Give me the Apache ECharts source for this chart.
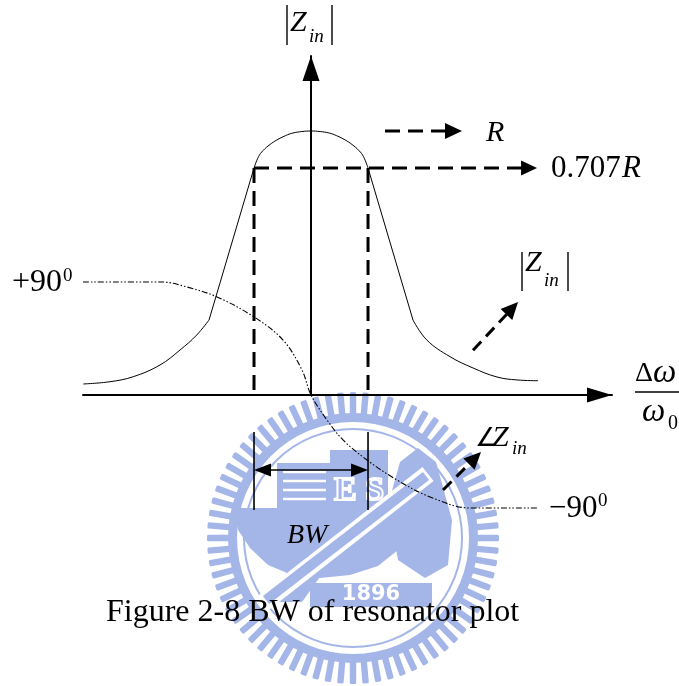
<!DOCTYPE html>
<html>
<head>
<meta charset="utf-8">
<script src="https://cdn.jsdelivr.net/npm/echarts@6/dist/echarts.min.js"></script>
<style>
  html, body { margin: 0; padding: 0; background: #fff; }
  #chart { width: 679px; height: 686px; }
</style>
</head>
<body>
<div id="chart"></div>
<script>
// Frequency offset Δω/ω0 in half-bandwidth units: the -3 dB edges sit at ±1.
const bandEdges = [-1, 1];
const peakLevel = 1;          // |Zin| at resonance, normalised to R
const halfPowerLevel = 0.707; // |Zin| at the band edges

// |Zin| / R : left skirt, rounded top, right skirt
const magLeftTail = [
  [-3.995, 0.0933], [-3.526, 0.0953], [-3.118, 0.0999], [-2.649, 0.1115],
  [-2.298, 0.1283], [-2.005, 0.1477], [-1.789, 0.170]
];
const magDome = [
  [-1, 0.707], [-0.92, 0.787], [-0.84, 0.833], [-0.72, 0.881], [-0.6, 0.919],
  [-0.45, 0.957], [-0.32, 0.981], [-0.16, 0.995], [0, 1],
  [0.16, 0.995], [0.32, 0.981], [0.45, 0.957], [0.6, 0.919], [0.72, 0.881],
  [0.84, 0.833], [0.92, 0.787], [1, 0.707]
];
const magRightTail = [
  [1.789, 0.170], [2.03, 0.141], [2.439, 0.1205], [2.842, 0.1084],
  [3.263, 0.0996], [3.614, 0.0969], [3.982, 0.0962]
];

// ∠Zin in degrees
const phaseCurve = [
  [-4, 90], [-2.614, 90], [-2.175, 86.0], [-1.649, 78.1], [-1, 62.2],
  [-0.491, 43.8], [-0.158, 19.9], [0, 0], [0.281, -19.9], [0.561, -35.8],
  [0.982, -51.8], [1.509, -67.7], [2.088, -81.2], [2.789, -90], [3.982, -90]
];

// Pointer arrows, [from, to] in axis units
const rPointer = [[1.298, peakLevel], [2.649, peakLevel]];
const halfPowerPointer = [[bandEdges[0], halfPowerLevel], [3.965, halfPowerLevel]];
const magPointer = [[2.842, 0.128], [3.632, 0.201]];
const phasePointer = [[2.316, -75.7], [2.982, -45.4]];
const bwMarkerPhase = -59.7;          // height of the BW dimension arrow
const bwWitnessPhase = [-29.5, -91.6]; // extent of its witness lines

// Axis extents
const xRange = [-4, 5.28];
const magRange = [0.08414, 2.0203];   // log axis for |Zin|
const phaseRange = [0, 270];          // hidden linear axis for ∠Zin

const SERIF = '"Liberation Serif", "Times New Roman", serif';
const INK = '#000';

// ---- arrows drawn through the axes' own coordinate conversion ----
function arrowParts(p1, p2, opt) {
  const dx = p2[0] - p1[0], dy = p2[1] - p1[1];
  const L = Math.hypot(dx, dy) || 1;
  const ux = dx / L, uy = dy / L, nx = -uy, ny = ux;
  const parts = [];
  const head = (tip, s) => {
    const bx = tip[0] - s * ux * opt.headLen, by = tip[1] - s * uy * opt.headLen;
    return {
      type: 'polygon',
      shape: { points: [[tip[0], tip[1]],
        [bx + nx * opt.headHalf, by + ny * opt.headHalf],
        [bx - nx * opt.headHalf, by - ny * opt.headHalf]] },
      style: { fill: INK }
    };
  };
  let a = p1, b = p2;
  if (opt.end) b = [p2[0] - ux * opt.headLen * 0.9, p2[1] - uy * opt.headLen * 0.9];
  if (opt.start) a = [p1[0] + ux * opt.headLen * 0.9, p1[1] + uy * opt.headLen * 0.9];
  parts.push({
    type: 'line',
    shape: { x1: a[0], y1: a[1], x2: b[0], y2: b[1] },
    style: { stroke: INK, lineWidth: opt.width, lineDash: opt.dash || null, fill: null }
  });
  if (opt.end) parts.push(head(p2, 1));
  if (opt.start) parts.push(head(p1, -1));
  return parts;
}

function arrowSeries(yAxisIndex, segments, opt) {
  return {
    type: 'custom',
    xAxisIndex: 0,
    yAxisIndex: yAxisIndex,
    clip: false,
    silent: true,
    z: 3,
    data: segments.map(s => [s[0][0], s[0][1], s[1][0], s[1][1]]),
    renderItem(params, api) {
      const p1 = api.coord([api.value(0), api.value(1)]);
      const p2 = api.coord([api.value(2), api.value(3)]);
      return { type: 'group', children: arrowParts(p1, p2, opt) };
    }
  };
}

function curve(data, smooth, yAxisIndex, lineStyle) {
  return {
    type: 'line', data: data, smooth: smooth, symbol: 'none',
    yAxisIndex: yAxisIndex, clip: false, silent: true, z: 2,
    lineStyle: lineStyle, emphasis: { disabled: true }
  };
}

const solidThin = { color: INK, width: 1 };
const dashHeavy = { width: 3, dash: [15, 8] };

const series = [
  // |Zin|
  curve(magLeftTail, 0.4, 0, solidThin),
  curve([magLeftTail[magLeftTail.length - 1], magDome[0]], false, 0, solidThin),
  curve(magDome, 0.4, 0, solidThin),
  curve([magDome[magDome.length - 1], magRightTail[0]], false, 0, solidThin),
  curve(magRightTail, 0.4, 0, solidThin),
  // ∠Zin, dash-dot-dot
  curve(phaseCurve, 0.35, 1, { color: INK, width: 1.1, type: [6, 2, 1.5, 2, 1.5, 2] }),
  // level pointers and band-edge drops
  arrowSeries(0, [rPointer], Object.assign({ end: true, headLen: 17, headHalf: 8 }, dashHeavy)),
  arrowSeries(0, [halfPowerPointer], Object.assign({ end: true, headLen: 16, headHalf: 7.5 }, dashHeavy)),
  arrowSeries(0, bandEdges.map(x => [[x, halfPowerLevel], [x, magRange[0]]]), dashHeavy),
  arrowSeries(0, [magPointer], { end: true, headLen: 17, headHalf: 8, width: 3, dash: [12, 7] }),
  arrowSeries(1, [phasePointer], { end: true, headLen: 17, headHalf: 8, width: 3, dash: [12, 7] }),
  // BW dimension
  arrowSeries(1, [[[bandEdges[0], bwMarkerPhase], [bandEdges[1], bwMarkerPhase]]],
    { start: true, end: true, headLen: 17, headHalf: 6.5, width: 1.6 }),
  arrowSeries(1, bandEdges.map(x => [[x, bwWitnessPhase[0]], [x, bwWitnessPhase[1]]]), { width: 1.6 })
];

// ---- faint university seal behind the plot ----
const wm = '#a4b5e8';
const sealCx = 353, sealCy = 538;
const seal = [];
for (let i = 0; i < 72; i++) {
  seal.push({
    type: 'rect', x: sealCx, y: sealCy, rotation: i * Math.PI * 2 / 72,
    shape: { x: -3.2, y: -146, width: 6.4, height: 23, r: 1.5 },
    style: { fill: wm }, z: -2
  });
}
seal.push(
  { type: 'ring', shape: { cx: sealCx, cy: sealCy, r: 125, r0: 116 }, style: { fill: wm }, z: -2 },
  { type: 'circle', shape: { cx: sealCx, cy: sealCy, r: 109 }, style: { fill: null, stroke: wm, lineWidth: 2 }, z: -2 },
  { type: 'rect', shape: { x: 277, y: 463, width: 53, height: 47 }, style: { fill: wm }, z: -2 },
  { type: 'rect', shape: { x: 330, y: 450, width: 58, height: 60 }, style: { fill: wm }, z: -2 },
  { type: 'polygon', shape: { points: [[233, 508], [415, 508], [410, 530], [398, 550], [378, 566], [350, 575],
    [320, 578], [292, 575], [268, 565], [250, 548], [238, 530]] }, style: { fill: wm }, z: -2 },
  { type: 'polygon', shape: { points: [[388, 505], [400, 462], [418, 448], [436, 462], [452, 520], [448, 565],
    [425, 578], [398, 560]] }, style: { fill: wm }, z: -2 },
  { type: 'polygon', shape: { points: [[262, 602], [298, 560], [332, 560], [302, 602]] }, style: { fill: wm }, z: -2 },
  { type: 'rect', shape: { x: 310, y: 583, width: 122, height: 24 }, style: { fill: wm }, z: -2 },
  { type: 'line', shape: { x1: 262, y1: 604, x2: 428, y2: 474 }, style: { stroke: '#fff', lineWidth: 18 }, z: -2 },
  { type: 'line', shape: { x1: 266, y1: 600, x2: 426, y2: 476 }, style: { stroke: wm, lineWidth: 10 }, z: -2 }
);
[472, 481, 490, 499].forEach(y => seal.push({
  type: 'line', shape: { x1: 283, y1: y, x2: 326, y2: y }, style: { stroke: '#fff', lineWidth: 2.5 }, z: -2
}));
seal.push(
  { type: 'text', style: { text: 'E S', x: 334, y: 491, font: 'bold 34px ' + SERIF, fill: null, stroke: '#fff', lineWidth: 2,
    align: 'left', verticalAlign: 'middle', textAlign: 'left', textVerticalAlign: 'middle' }, z: -2 },
  { type: 'text', style: { text: '1896', x: 371, y: 595, font: 'bold 21px "DejaVu Sans", sans-serif', fill: '#fff',
    align: 'center', verticalAlign: 'middle', textAlign: 'center', textVerticalAlign: 'middle' }, z: -2 }
);

// ---- labels ----
function txt(text, x, y, size, italic) {
  return {
    type: 'text', z: 10, silent: true,
    style: {
      text: text, x: x, y: y, fill: INK,
      font: (italic ? 'italic ' : '') + size + 'px ' + SERIF,
      align: 'left', verticalAlign: 'middle', textAlign: 'left', textVerticalAlign: 'middle'
    }
  };
}
function bar(x, y1, y2) {
  return { type: 'line', z: 10, silent: true, shape: { x1: x, y1: y1, x2: x, y2: y2 }, style: { stroke: INK, lineWidth: 1.4 } };
}

const labels = [
  // |Zin| on the vertical axis
  bar(287, 5, 45), txt('Z', 290, 23, 30, true), txt('in', 309, 37, 19, true), bar(332, 5, 45),
  // level labels
  txt('R', 486, 133, 30, true),
  txt('0.707', 551, 169, 31, false), txt('R', 622, 169, 31, true),
  // |Zin| pointer label
  bar(522, 252, 291), txt('Z', 525, 263, 30, true), txt('in', 544, 281, 19, true), bar(568, 252, 291),
  // ∠Zin pointer label
  txt('\u2220', 475, 439, 26, false), txt('Z', 492, 438, 30, true), txt('in', 512, 449, 19, true),
  // phase limits
  txt('+90', 12, 283, 32, false), txt('0', 63, 276, 19, false),
  txt('\u221290', 549, 509, 31, false), txt('0', 598, 501, 19, false),
  // horizontal axis title Δω / ω0
  txt('\u0394', 635, 374, 28, false), txt('\u03c9', 653, 373, 33, true),
  { type: 'line', z: 10, silent: true, shape: { x1: 635, y1: 392, x2: 681, y2: 392 }, style: { stroke: INK, lineWidth: 1.5 } },
  txt('\u03c9', 642, 412, 33, true), txt('0', 668, 424, 20, false),
  // bandwidth
  txt('BW', 287, 536, 28, true),
  // caption
  txt('Figure 2-8 BW of resonator plot', 106, 613, 32, false)
];

const chart = echarts.init(document.getElementById('chart'), null, { renderer: 'canvas' });
chart.setOption({
  animation: false,
  backgroundColor: '#fff',
  grid: { left: 83, right: 67, top: 56, bottom: 291, containLabel: false },
  xAxis: {
    type: 'value', min: xRange[0], max: xRange[1],
    axisLine: {
      show: true, onZero: false,
      lineStyle: { color: INK, width: 2 },
      symbol: ['none', 'triangle'], symbolSize: [15, 25], symbolOffset: [0, -12.5]
    },
    axisTick: { show: false }, axisLabel: { show: false }, splitLine: { show: false }
  },
  yAxis: [
    {
      type: 'log', logBase: 10, min: magRange[0], max: magRange[1],
      axisLine: {
        show: true, onZero: true,
        lineStyle: { color: INK, width: 2 },
        symbol: ['none', 'triangle'], symbolSize: [17, 25], symbolOffset: [0, -12.5]
      },
      axisTick: { show: false }, axisLabel: { show: false }, splitLine: { show: false }
    },
    {
      type: 'value', min: phaseRange[0], max: phaseRange[1], show: false,
      axisLine: { show: false }, splitLine: { show: false }
    }
  ],
  graphic: { elements: seal.concat(labels) },
  series: series
});
</script>
</body>
</html>
